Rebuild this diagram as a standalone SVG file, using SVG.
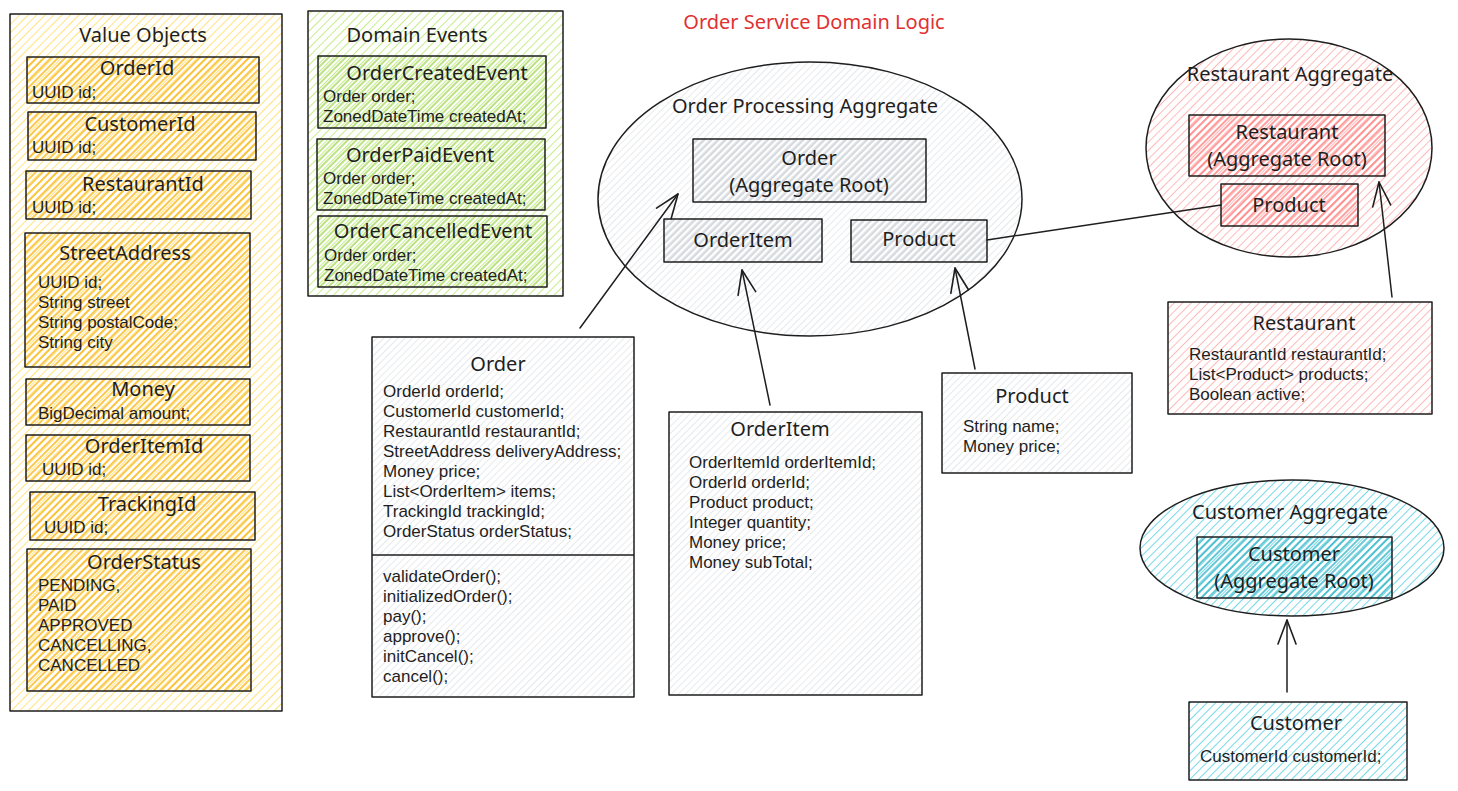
<svg xmlns="http://www.w3.org/2000/svg" width="1458" height="791" viewBox="0 0 1458 791">
<defs>
<pattern id="hY1" width="6" height="6" patternUnits="userSpaceOnUse" patternTransform="rotate(45)"><line x1="0" y1="0" x2="0" y2="6" stroke="#ffd43b" stroke-width="1.3"/></pattern>
<pattern id="hY2" width="5" height="5" patternUnits="userSpaceOnUse" patternTransform="rotate(45)"><line x1="2" y1="0" x2="2" y2="5" stroke="#fab005" stroke-width="1.4"/></pattern>
<pattern id="hG1" width="6" height="6" patternUnits="userSpaceOnUse" patternTransform="rotate(45)"><line x1="0" y1="0" x2="0" y2="6" stroke="#a9e34b" stroke-width="1.3"/></pattern>
<pattern id="hG2" width="6" height="6" patternUnits="userSpaceOnUse" patternTransform="rotate(45)"><line x1="3" y1="0" x2="3" y2="6" stroke="#82c91e" stroke-width="1.1"/></pattern>
<pattern id="hR1" width="6" height="6" patternUnits="userSpaceOnUse" patternTransform="rotate(45)"><line x1="0" y1="0" x2="0" y2="6" stroke="#ff9494" stroke-width="1.3"/></pattern>
<pattern id="hR2" width="5" height="5" patternUnits="userSpaceOnUse" patternTransform="rotate(45)"><line x1="2" y1="0" x2="2" y2="5" stroke="#ff6b6b" stroke-width="1.3"/></pattern>
<pattern id="hC1" width="6" height="6" patternUnits="userSpaceOnUse" patternTransform="rotate(45)"><line x1="0" y1="0" x2="0" y2="6" stroke="#3bc9db" stroke-width="1.4"/></pattern>
<pattern id="hC2" width="5" height="5" patternUnits="userSpaceOnUse" patternTransform="rotate(45)"><line x1="2" y1="0" x2="2" y2="5" stroke="#15aabf" stroke-width="1.3"/></pattern>
<pattern id="hK1" width="5" height="5" patternUnits="userSpaceOnUse" patternTransform="rotate(45)"><line x1="0" y1="0" x2="0" y2="5" stroke="#ced4da" stroke-width="1"/></pattern>
<pattern id="hK2" width="5" height="5" patternUnits="userSpaceOnUse" patternTransform="rotate(45)"><line x1="2" y1="0" x2="2" y2="5" stroke="#adb5bd" stroke-width="1"/></pattern>
<marker id="arr" markerUnits="userSpaceOnUse" markerWidth="30" markerHeight="30" viewBox="-26 -13 30 26" refX="0" refY="0" orient="auto">
<path d="M -24 -9 L 0 0 L -24 9" fill="none" stroke="#1e1e1e" stroke-width="1.6" stroke-linecap="round" stroke-linejoin="round"/>
</marker>
<style>
.s{stroke:#1e1e1e;stroke-width:1.5;stroke-linejoin:round}
text{font-family:"Noto Sans","Liberation Sans",sans-serif;fill:#1e1e1e}
.t{font-size:20px;text-anchor:middle}
.b{font-family:"Liberation Sans",Arial,sans-serif;font-size:17px}
.h{font-size:20px;fill:#e03131;text-anchor:middle}
.c{fill:none;stroke:#1e1e1e;stroke-width:1.5;stroke-linecap:round}
</style>
</defs>
<rect width="1458" height="791" fill="#ffffff"/>

<g id="title"><text class="h" x="814" y="29">Order Service Domain Logic</text></g>

<g id="value-objects">
<rect class="s" x="10" y="14" width="272" height="697" fill="url(#hY1)"/>
<text class="t" x="143" y="42">Value Objects</text>
</g>
<g id="vo-orderid"><rect class="s" x="27" y="57" width="232" height="46" fill="url(#hY2)"/><text class="t" x="137" y="75">OrderId</text><text class="b" x="32" y="98">UUID id;</text></g>
<g id="vo-customerid"><rect class="s" x="28" y="112" width="228" height="48" fill="url(#hY2)"/><text class="t" x="140" y="131">CustomerId</text><text class="b" x="32" y="153">UUID id;</text></g>
<g id="vo-restaurantid"><rect class="s" x="26" y="171" width="225" height="48" fill="url(#hY2)"/><text class="t" x="143" y="191">RestaurantId</text><text class="b" x="32" y="213">UUID id;</text></g>
<g id="vo-streetaddress"><rect class="s" x="25" y="233" width="225" height="134" fill="url(#hY2)"/><text class="t" x="125" y="260">StreetAddress</text>
<text class="b" x="38" y="288">UUID id;</text><text class="b" x="38" y="308">String street</text><text class="b" x="38" y="328">String postalCode;</text><text class="b" x="38" y="348">String city</text></g>
<g id="vo-money"><rect class="s" x="26" y="379" width="224" height="46" fill="url(#hY2)"/><text class="t" x="143" y="396">Money</text><text class="b" x="38" y="419">BigDecimal amount;</text></g>
<g id="vo-orderitemid"><rect class="s" x="26" y="435" width="224" height="46" fill="url(#hY2)"/><text class="t" x="144" y="453">OrderItemId</text><text class="b" x="42" y="475">UUID id;</text></g>
<g id="vo-trackingid"><rect class="s" x="30" y="492" width="225" height="48" fill="url(#hY2)"/><text class="t" x="147" y="511">TrackingId</text><text class="b" x="44" y="533">UUID id;</text></g>
<g id="vo-orderstatus"><rect class="s" x="27" y="549" width="224" height="142" fill="url(#hY2)"/><text class="t" x="144" y="569">OrderStatus</text>
<text class="b" x="38" y="591">PENDING,</text><text class="b" x="38" y="611">PAID</text><text class="b" x="38" y="631">APPROVED</text><text class="b" x="38" y="651">CANCELLING,</text><text class="b" x="38" y="671">CANCELLED</text></g>

<g id="domain-events">
<rect class="s" x="308" y="11" width="255" height="285" fill="url(#hG1)"/>
<text class="t" x="417" y="42">Domain Events</text>
</g>
<g id="ev-created"><rect class="s" x="318" y="56" width="228" height="72" fill="url(#hG2)"/><text class="t" x="437" y="80">OrderCreatedEvent</text><text class="b" x="323" y="102">Order order;</text><text class="b" x="323" y="122">ZonedDateTime createdAt;</text></g>
<g id="ev-paid"><rect class="s" x="317" y="139" width="228" height="71" fill="url(#hG2)"/><text class="t" x="420" y="162">OrderPaidEvent</text><text class="b" x="323" y="184">Order order;</text><text class="b" x="323" y="204">ZonedDateTime createdAt;</text></g>
<g id="ev-cancelled"><rect class="s" x="318" y="216" width="229" height="71" fill="url(#hG2)"/><text class="t" x="433" y="238">OrderCancelledEvent</text><text class="b" x="324" y="261">Order order;</text><text class="b" x="324" y="281">ZonedDateTime createdAt;</text></g>

<g id="order-processing-aggregate">
<ellipse class="s" cx="810" cy="199" rx="212" ry="137" fill="url(#hK1)"/>
<text class="t" x="805" y="113">Order Processing Aggregate</text>
</g>
<g id="agg-order"><rect class="s" x="693" y="139" width="233" height="63" fill="url(#hK2)"/><text class="t" x="809" y="165">Order</text><text class="t" x="809" y="192">(Aggregate Root)</text></g>
<g id="agg-orderitem"><rect class="s" x="664" y="219" width="158" height="43" fill="url(#hK2)"/><text class="t" x="743" y="247">OrderItem</text></g>
<g id="agg-product"><rect class="s" x="851" y="220" width="136" height="42" fill="url(#hK2)"/><text class="t" x="919" y="246">Product</text></g>

<g id="restaurant-aggregate">
<ellipse class="s" cx="1289" cy="148" rx="143" ry="109" fill="url(#hR1)"/>
<text class="t" x="1290" y="81">Restaurant Aggregate</text>
</g>
<g id="agg-restaurant"><rect class="s" x="1189" y="115" width="196" height="61" fill="url(#hR2)"/><text class="t" x="1287" y="139">Restaurant</text><text class="t" x="1287" y="166">(Aggregate Root)</text></g>
<g id="agg-restaurant-product"><rect class="s" x="1221" y="184" width="137" height="42" fill="url(#hR2)"/><text class="t" x="1289" y="212">Product</text></g>

<g id="restaurant-entity"><rect class="s" x="1168" y="302" width="264" height="112" fill="url(#hR1)"/><text class="t" x="1304" y="330">Restaurant</text>
<text class="b" x="1189" y="360">RestaurantId restaurantId;</text><text class="b" x="1189" y="380">List&lt;Product&gt; products;</text><text class="b" x="1189" y="400">Boolean active;</text></g>

<g id="order-entity"><rect class="s" x="372" y="337" width="262" height="360" fill="url(#hK1)"/><line class="s" x1="372" y1="555" x2="634" y2="555"/>
<text class="t" x="498" y="371">Order</text>
<text class="b" x="383" y="397">OrderId orderId;</text><text class="b" x="383" y="417">CustomerId customerId;</text><text class="b" x="383" y="437">RestaurantId restaurantId;</text><text class="b" x="383" y="457">StreetAddress deliveryAddress;</text><text class="b" x="383" y="477">Money price;</text><text class="b" x="383" y="497">List&lt;OrderItem&gt; items;</text><text class="b" x="383" y="517">TrackingId trackingId;</text><text class="b" x="383" y="537">OrderStatus orderStatus;</text>
<text class="b" x="383" y="582">validateOrder();</text><text class="b" x="383" y="602">initializedOrder();</text><text class="b" x="383" y="622">pay();</text><text class="b" x="383" y="642">approve();</text><text class="b" x="383" y="662">initCancel();</text><text class="b" x="383" y="682">cancel();</text></g>

<g id="orderitem-entity"><rect class="s" x="669" y="412" width="253" height="283" fill="url(#hK1)"/><text class="t" x="780" y="436">OrderItem</text>
<text class="b" x="689" y="468">OrderItemId orderItemId;</text><text class="b" x="689" y="488">OrderId orderId;</text><text class="b" x="689" y="508">Product product;</text><text class="b" x="689" y="528">Integer quantity;</text><text class="b" x="689" y="548">Money price;</text><text class="b" x="689" y="568">Money subTotal;</text></g>

<g id="product-entity"><rect class="s" x="942" y="373" width="190" height="100" fill="url(#hK1)"/><text class="t" x="1032" y="403">Product</text>
<text class="b" x="963" y="432">String name;</text><text class="b" x="963" y="452">Money price;</text></g>

<g id="customer-aggregate">
<ellipse class="s" cx="1292" cy="548" rx="152" ry="68" fill="url(#hC1)"/>
<text class="t" x="1290" y="519">Customer Aggregate</text>
</g>
<g id="agg-customer"><rect class="s" x="1197" y="537" width="195" height="61" fill="url(#hC2)"/><text class="t" x="1294" y="561">Customer</text><text class="t" x="1294" y="588">(Aggregate Root)</text></g>

<g id="customer-entity"><rect class="s" x="1189" y="702" width="218" height="78" fill="url(#hC1)"/><text class="t" x="1296" y="730">Customer</text><text class="b" x="1200" y="762">CustomerId customerId;</text></g>

<g id="connectors">
<line class="c" x1="580" y1="328" x2="678" y2="194" marker-end="url(#arr)"/>
<line class="c" x1="770" y1="405" x2="742" y2="270" marker-end="url(#arr)"/>
<line class="c" x1="975" y1="369" x2="955" y2="268" marker-end="url(#arr)"/>
<line class="c" x1="987" y1="240" x2="1221" y2="205"/>
<line class="c" x1="1392" y1="297" x2="1379" y2="182" marker-end="url(#arr)"/>
<line class="c" x1="1287" y1="692" x2="1287" y2="620" marker-end="url(#arr)"/>
</g>
</svg>
